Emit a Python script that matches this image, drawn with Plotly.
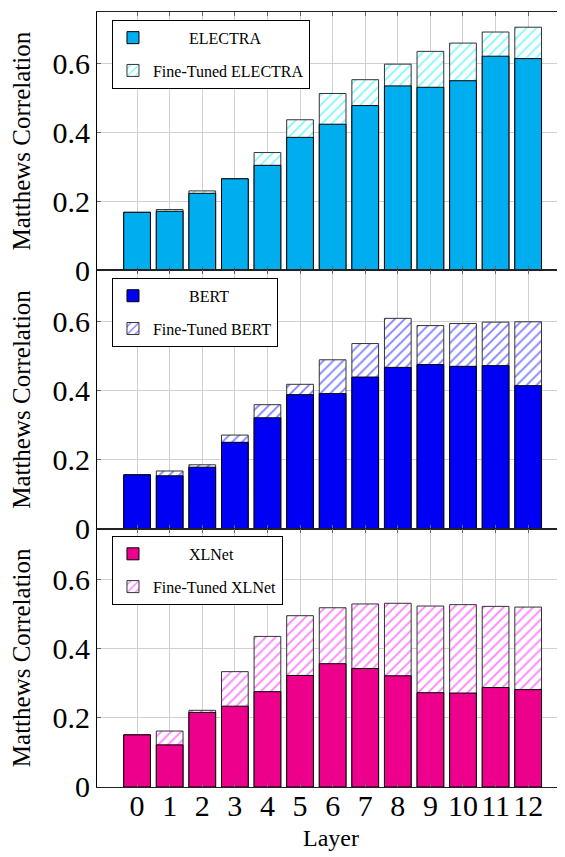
import plotly.graph_objects as go
from plotly.subplots import make_subplots

layers = list(range(13))

electra = [0.168, 0.171, 0.223, 0.265, 0.304, 0.385, 0.423, 0.477, 0.534, 0.530, 0.549, 0.620, 0.613]
electra_ft = [0.168, 0.176, 0.230, 0.265, 0.341, 0.436, 0.512, 0.552, 0.597, 0.634, 0.658, 0.690, 0.704]

bert = [0.156, 0.153, 0.178, 0.250, 0.321, 0.388, 0.391, 0.439, 0.467, 0.475, 0.470, 0.472, 0.414]
bert_ft = [0.156, 0.167, 0.185, 0.271, 0.359, 0.418, 0.489, 0.536, 0.609, 0.588, 0.594, 0.598, 0.599]

xlnet = [0.151, 0.122, 0.216, 0.234, 0.276, 0.323, 0.357, 0.343, 0.322, 0.273, 0.272, 0.288, 0.282]
xlnet_ft = [0.151, 0.162, 0.222, 0.334, 0.436, 0.496, 0.519, 0.530, 0.532, 0.524, 0.528, 0.523, 0.521]

models = ["ELECTRA", "BERT", "XLNet"]
base_vals = [electra, bert, xlnet]
ft_vals = [electra_ft, bert_ft, xlnet_ft]
solid_colors = ["#00AEEF", "#0000F5", "#EC008C"]
hatch_colors = ["#00F0FF", "#0000FF", "#FF00FF"]
legend_ids = ["legend", "legend2", "legend3"]
pads = [9, 9, 9]

FONT = "Liberation Serif, Times New Roman, serif"

fig = make_subplots(rows=3, cols=1, shared_xaxes=True, vertical_spacing=0)

for i in range(3):
    r = i + 1
    m = models[i]
    fig.add_trace(go.Bar(
        x=layers, y=ft_vals[i], name="Fine-Tuned " + m, width=0.82,
        marker=dict(color="white",
                    pattern=dict(shape="/", fgcolor=hatch_colors[i], bgcolor="white",
                                 size=7, solidity=0.25),
                    line=dict(color="#333333", width=1)),
        legend=legend_ids[i], legendrank=2, legendgroup=m + "ft",
    ), row=r, col=1)
    fig.add_trace(go.Bar(
        x=layers, y=base_vals[i], name="\u00a0" * pads[i] + m, width=0.82,
        marker=dict(color=solid_colors[i], line=dict(color="black", width=1)),
        legend=legend_ids[i], legendrank=1, legendgroup=m,
    ), row=r, col=1)

# page body has an 8px margin: figure drawn at (8, 8)
legend_tops = [0.99, 0.657, 0.324]
for i in range(3):
    fig.update_layout({legend_ids[i]: dict(
        x=0.032, y=legend_tops[i], xanchor="left", yanchor="top",
        bgcolor="white", bordercolor="black", borderwidth=1,
        font=dict(family=FONT, size=16, color="black"),
        tracegroupgap=9, traceorder="grouped",
    )})

for r in range(1, 4):
    fig.update_yaxes(
        range=[0, 0.748], tickvals=[0, 0.2, 0.4, 0.6], ticktext=["0", "0.2", "0.4", "0.6"],
        showgrid=True, gridcolor="#d0d0d0", gridwidth=1,
        showline=True, linecolor="black", linewidth=1, mirror=False,
        ticks="inside", ticklen=4, tickcolor="#666666",
        zeroline=False, automargin=False,
        tickfont=dict(family=FONT, size=30, color="black"),
        title=dict(text="Matthews Correlation", font=dict(family=FONT, size=25, color="black"), standoff=14),
        row=r, col=1)
    fig.update_xaxes(
        range=[-1.23, 13.13], tickvals=layers, ticktext=[str(v) for v in layers],
        showgrid=True, gridcolor="#d0d0d0", gridwidth=1,
        showline=True, linecolor="#222222", linewidth=1, mirror="ticks",
        ticks="inside", ticklen=4, tickcolor="#666666",
        zeroline=False, automargin=False,
        tickfont=dict(family=FONT, size=30, color="black"),
        row=r, col=1)

fig.update_xaxes(ticklabelstandoff=-8,
                 title=dict(text="Layer", font=dict(family=FONT, size=24, color="black"), standoff=8),
                 row=3, col=1)

fig.update_layout(
    width=557, height=849,
    margin=dict(l=89, r=0, t=4, b=70),
    barmode="overlay",
    plot_bgcolor="white", paper_bgcolor="white",
    font=dict(family=FONT, color="black"),
)

fig.write_html("out.html")
